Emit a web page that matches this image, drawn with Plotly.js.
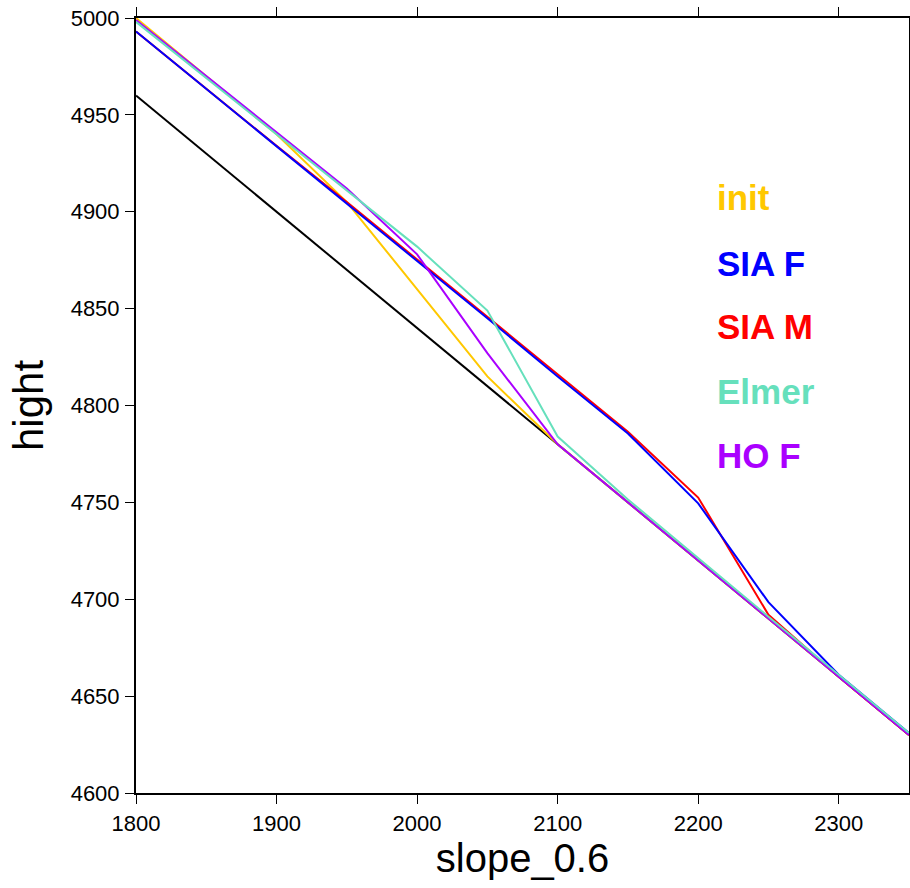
<!DOCTYPE html>
<html>
<head>
<meta charset="utf-8">
<script src="https://cdn.plot.ly/plotly-3.0.1.min.js"></script>
<style>html,body{margin:0;padding:0;background:#fff;}#plot{width:910px;height:888px;}</style>
</head>
<body>
<div id="plot"></div>
<script>
// x positions along the profile
const xPos = [1800, 1850, 1900, 1950, 2000, 2050, 2100, 2150, 2200, 2250, 2300, 2350];
// bed (slope 0.6)
const bed   = [4960, 4930, 4900, 4870, 4840, 4810, 4780, 4750, 4720, 4690, 4660, 4630];
const init  = [5000, 4970, 4940, 4905, 4860, 4815, 4780, 4750, 4720, 4690, 4660, 4630];
const siaF  = [4993, 4963.5, 4934, 4904.5, 4875, 4845, 4815, 4785.5, 4749.5, 4698.5, 4661, 4631];
const siaM  = [4993, 4963.5, 4934, 4905, 4875.5, 4845.5, 4816, 4786.5, 4752.5, 4692, 4660, 4630];
const elmer = [4998, 4969, 4940, 4911, 4882, 4849, 4784, 4751.5, 4721, 4691, 4661, 4631];
const hoF   = [4999, 4970, 4941, 4912, 4878, 4827, 4780, 4750, 4720, 4690, 4660, 4630];

const labels = ['init', 'SIA F', 'SIA M', 'Elmer', 'HO F'];
const colors = {bed: '#000000', init: '#FFC800', siaF: '#0000FF', siaM: '#FF0000', elmer: '#66E0BC', hoF: '#AA00FF'};

function tr(y, c) {
  return {x: xPos, y: y, type: 'scatter', mode: 'lines', line: {color: c, width: 2}, showlegend: false, hoverinfo: 'skip'};
}
const data = [
  tr(bed, colors.bed),
  tr(init, colors.init),
  tr(siaM, colors.siaM),
  tr(siaF, colors.siaF),
  tr(hoF, colors.hoF),
  tr(elmer, colors.elmer)
];

const labelColors = [colors.init, colors.siaF, colors.siaM, colors.elmer, colors.hoF];
const labelY = [0.768, 0.683, 0.602, 0.518, 0.435];
const annotations = labels.map((t, i) => ({
  text: '<b>' + t + '</b>', xref: 'paper', yref: 'paper', x: 0.749, y: labelY[i],
  xanchor: 'left', yanchor: 'middle', showarrow: false,
  font: {family: 'Liberation Sans, Arial, sans-serif', size: 35, color: labelColors[i]}
}));

const axisCommon = {
  showline: true, linecolor: '#000', linewidth: 2, mirror: 'ticks',
  ticks: 'outside', ticklen: 9, tickwidth: 1, tickcolor: '#000',
  showgrid: false, zeroline: false,
  tickfont: {family: 'Liberation Sans, Arial, sans-serif', size: 22, color: '#000'}
};

const layout = {
  width: 910, height: 888,
  margin: {l: 136, r: 1, t: 18, b: 95},
  paper_bgcolor: '#fff', plot_bgcolor: '#fff',
  xaxis: Object.assign({}, axisCommon, {
    range: [1800, 2350], dtick: 100, tick0: 1800, ticklabelstandoff: 1,
    title: {text: 'slope_0.6', font: {family: 'Liberation Sans, Arial, sans-serif', size: 40, color: '#000'}, standoff: 6}
  }),
  yaxis: Object.assign({}, axisCommon, {
    range: [4600, 5000], dtick: 50, tick0: 4600, ticklabelstandoff: 1,
    title: {text: 'hight', font: {family: 'Liberation Sans, Arial, sans-serif', size: 42, color: '#000'}, standoff: 14}
  }),
  annotations: annotations,
  showlegend: false
};

Plotly.newPlot('plot', data, layout, {displayModeBar: false, staticPlot: true});
</script>
</body>
</html>
